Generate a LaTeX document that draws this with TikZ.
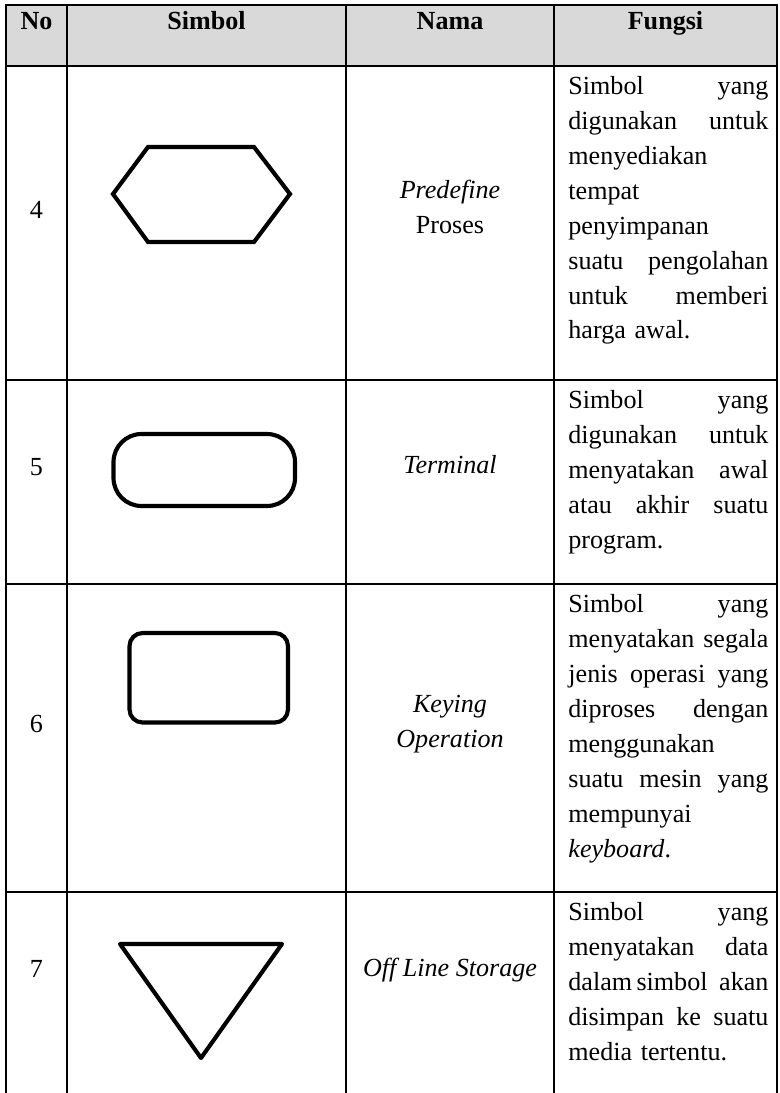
\documentclass[tikz,border=0pt]{standalone}
\usepackage{fontspec}
\setmainfont{Liberation Serif}
\definecolor{hdgray}{HTML}{D9D9D9}
\newlength\fw
\setlength\fw{92pt}
\newcommand\jl[1]{\leavevmode\hbox to\fw{\spaceskip=3pt plus 1fil\relax #1}}
\newcommand\rag[1]{\leavevmode\hbox to\fw{#1\hfil}}

\begin{document}
\begin{tikzpicture}[x=0.46pt,y=-0.46pt,
    grid/.style={line width=1.15pt},
    sym/.style={line width=1.9pt},
    head/.style={anchor=base,inner sep=0pt,font=\fontsize{12}{16.1}\selectfont\bfseries},
    nama/.style={anchor=base,inner sep=0pt,align=center,font=\fontsize{12}{16.1}\selectfont},
    fungsi/.style={anchor=base west,inner sep=0pt,align=left,text width=\fw,font=\fontsize{12}{16.1}\selectfont}]
  \useasboundingbox (0,0) rectangle (780,1093);
  % kepala tabel
  \fill[hdgray] (6,5) rectangle (777,66);
  \draw[grid] (6,1093) -- (6,5) -- (777,5) -- (777,1093);
  \foreach \x in {67,346,554}
    \draw[grid] (\x,5) -- (\x,1093);
  \foreach \y in {66,380,584,892}
    \draw[grid] (6,\y) -- (777,\y);
  \node[head] (hno) at (36.5,29) {No};
  \node[head] (hsim) at (206.5,29) {Simbol};
  \node[head] (hnam) at (450,29) {Nama};
  \node[head] (hfun) at (665.5,29) {Fungsi};
  % nomor
  \foreach \n/\y in {4/218,5/475,6/732,7/977}
    \node[nama] (no\n) at (36.5,\y) {\n};
  % simbol
  \draw[sym] (113,194) -- (148,147) -- (254,147) -- (290,194) -- (254,242) -- (148,242) -- cycle;
  \draw[sym,rounded corners=12.9pt] (113.5,434) rectangle (295,506);
  \draw[sym,rounded corners=6pt] (129.5,633) rectangle (288,722.5);
  \draw[sym,line join=round] (120,944) -- (282,944) -- (201,1058) -- cycle;
  % nama (base = baris terakhir)
  \node[nama] (nama4) at (450,233) {\textit{Predefine}\\Proses};
  \node[nama] (nama5) at (450,473) {\textit{Terminal}};
  \node[nama] (nama6) at (450,747) {\textit{Keying}\\\textit{Operation}};
  \node[nama] (nama7) at (450,976) {\textit{Off Line Storage}};
  % fungsi
  \node[fungsi] (fungsi4) at (568,94) {\jl{Simbol yang}\\\jl{digunakan untuk}\\\rag{menyediakan}\\\rag{tempat}\\\rag{penyimpanan}\\\jl{suatu pengolahan}\\\jl{untuk memberi}\\\rag{harga awal.}};
  \node[fungsi] (fungsi5) at (568,408) {\jl{Simbol yang}\\\jl{digunakan untuk}\\\jl{menyatakan awal}\\\jl{atau akhir suatu}\\\rag{program.}};
  \node[fungsi] (fungsi6) at (568,612) {\jl{Simbol yang}\\\jl{menyatakan segala}\\\jl{jenis operasi yang}\\\jl{diproses dengan}\\\rag{menggunakan}\\\jl{suatu mesin yang}\\\rag{mempunyai}\\\rag{\textit{keyboard}.}};
  \node[fungsi] (fungsi7) at (568,920) {\jl{Simbol yang}\\\jl{menyatakan data}\\\jl{dalam\hspace{2pt}simbol akan}\\\jl{disimpan ke suatu}\\\rag{media tertentu.}};
\end{tikzpicture}
\end{document}
